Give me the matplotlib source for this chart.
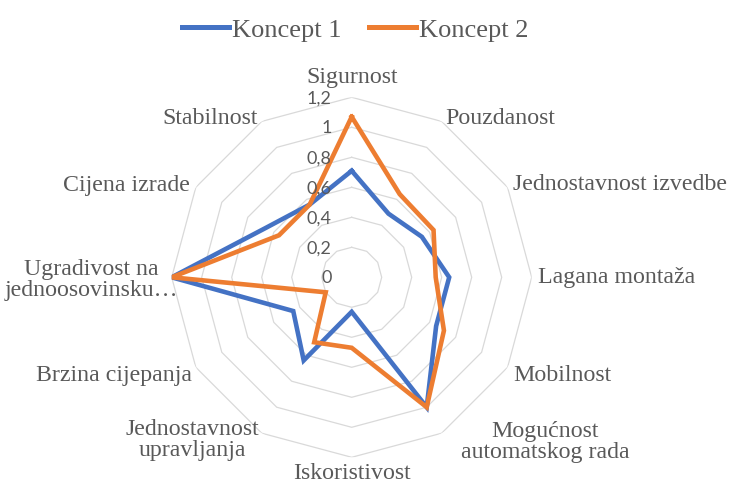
import numpy as np
import matplotlib
matplotlib.use("Agg")
import matplotlib.pyplot as plt

categories = [
    "Sigurnost", "Pouzdanost", "Jednostavnost izvedbe", "Lagana montaža",
    "Mobilnost", "Mogućnost\nautomatskog rada", "Iskoristivost",
    "Jednostavnost\nupravljanja", "Brzina cijepanja",
    "Ugradivost na\njednoosovinsku…", "Cijena izrade", "Stabilnost",
]
koncept_1 = [0.71, 0.49, 0.54, 0.65, 0.65, 1.0, 0.23, 0.64, 0.45, 1.2, 0.66, 0.56]
koncept_2 = [1.07, 0.64, 0.63, 0.56, 0.71, 1.0, 0.47, 0.5, 0.2, 1.2, 0.56, 0.56]
ring_values = [0, 0.2, 0.4, 0.6, 0.8, 1.0, 1.2]
ring_labels = ["0", "0,2", "0,4", "0,6", "0,8", "1", "1,2"]
series_names = ["Koncept 1", "Koncept 2"]
series_colors = ["#4472C4", "#ED7D31"]

W, H = 731, 489
fig = plt.figure(figsize=(W / 100, H / 100), dpi=100)

# polar axes centred at (352, 278) px with a 180 px outer radius
cx, cy, R = 351.7, 278.3, 180
ax = fig.add_axes([(cx - R) / W, (H - cy - R) / H, 2 * R / W, 2 * R / H],
                  projection="polar")
ax.set_theta_zero_location("N")
ax.set_theta_direction(-1)
ax.set_ylim(0, 1.2)
ax.grid(False)
ax.set_xticks([])
ax.set_yticks([])
ax.spines["polar"].set_visible(False)
ax.patch.set_alpha(0)

n = len(categories)
theta = np.linspace(0, 2 * np.pi, n, endpoint=False)
theta_closed = np.append(theta, theta[0])

# polygonal gridlines, one ring per value step
grid_color = "#d9d9d9"
for rv in ring_values[1:]:
    ax.plot(theta_closed, [rv] * (n + 1), color=grid_color, lw=0.9, zorder=1)

for vals, color, name in zip([koncept_1, koncept_2], series_colors, series_names):
    ax.plot(theta_closed, vals + vals[:1], color=color, lw=3.3, label=name,
            solid_joinstyle="miter", zorder=3)

# ring value labels along the top spoke
for rv, lab in zip(ring_values, ring_labels):
    py = cy - rv / 1.2 * R
    fig.text((cx - 20) / W, 1 - py / H, lab, ha="right", va="center",
             fontsize=13, color="#595959", family="Lato", zorder=4)

# category labels
serif = "Liberation Serif"
label_anchor = [
    (352, 78, "center"), (445, 118, "left"), (513, 185, "left"),
    (538, 278, "left"), (513, 376, "left"), (545, 442, "center"),
    (352, 474, "center"), (192, 440, "center"), (192, 376, "right"),
    (91, 280, "center"), (190, 186, "right"), (258, 118, "right"),
]
for lab, (px, py, ha) in zip(categories, label_anchor):
    fig.text(px / W, 1 - py / H, lab, ha=ha, va="center", fontsize=17.2,
             color="#595959", family=serif, linespacing=0.95,
             multialignment="center")

leg = fig.legend(loc="center", bbox_to_anchor=(355 / W, 1 - 30 / H), ncol=2,
                 frameon=False, handlelength=1.8, handletextpad=0.1,
                 columnspacing=1.05,
                 prop={"family": serif, "size": 19})
for t in leg.get_texts():
    t.set_color("#595959")
for line in leg.get_lines():
    line.set_linewidth(3.6)

fig.savefig("out.png", dpi=100)
